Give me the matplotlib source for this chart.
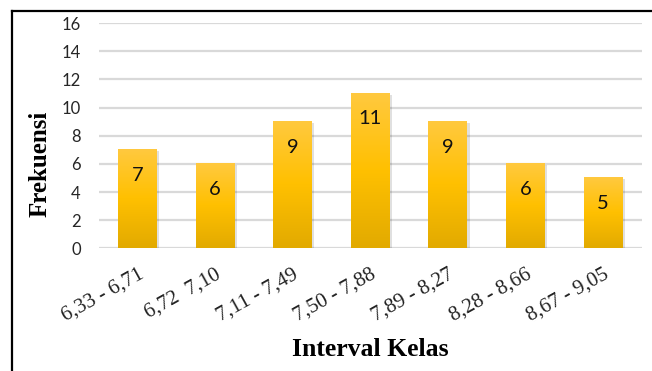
import matplotlib
matplotlib.use("Agg")
import matplotlib.pyplot as plt
import numpy as np
from matplotlib.colors import LinearSegmentedColormap
from matplotlib.lines import Line2D
from matplotlib.transforms import ScaledTranslation

categories = ["6,33 - 6,71", "6,72  7,10", "7,11 - 7,49", "7,50 - 7,88",
              "7,89 - 8,27", "8,28 - 8,66", "8,67 - 9,05"]
values = [7, 6, 9, 11, 9, 6, 5]
yticks = [0, 2, 4, 6, 8, 10, 12, 14, 16]

W, H = 652, 371
fig = plt.figure(figsize=(W / 100, H / 100), dpi=100)
fig.patch.set_facecolor("white")

left, right = 98.7 / W, 641.8 / W
bottom, top = 1 - 248.3 / H, 1 - 23.2 / H
ax = fig.add_axes([left, bottom, right - left, top - bottom])

x = np.arange(len(categories))
bw = 0.5
cmap = LinearSegmentedColormap.from_list(
    "g", [(0.0, "#E2AA00"), (0.5, "#FFC000"), (1.0, "#FFC93F")])
grad = np.linspace(0, 1, 256).reshape(-1, 1)

ax.set_xlim(-0.5, len(categories) - 0.5)
ax.set_ylim(0, 16)
ax.set_yticks(yticks)
ax.grid(axis="y", color="#d9d9d9", linewidth=1.6, zorder=0)
ax.set_axisbelow(True)

bars = ax.bar(x, values, width=bw, color="none", zorder=2)
for xi, v in zip(x, values):
    # soft shadow
    ax.bar(xi + 0.03, v, width=bw, bottom=-0.08, color="#000000", alpha=0.12,
           zorder=1.5, linewidth=0)
    ax.imshow(grad, extent=[xi - bw / 2, xi + bw / 2, 0, v], origin="lower",
              cmap=cmap, aspect="auto", zorder=2)
    ax.text(xi, v - 1.8, str(v), ha="center", va="center", fontsize=14.5,
            family="Lato", color="#111111", zorder=3)

ax.set_xticks(x)
ax.set_xticklabels(categories, rotation=29, ha="right", rotation_mode="anchor",
                   family="Liberation Serif", fontsize=15, color="#222222")
shift = ScaledTranslation(-4 / 100, 0, fig.dpi_scale_trans)
for lab in ax.get_xticklabels():
    lab.set_transform(lab.get_transform() + shift)
ax.tick_params(axis="x", length=0, pad=12)
ax.tick_params(axis="y", length=0, pad=13, labelsize=12, labelcolor="#262626")
for lab in ax.get_yticklabels():
    lab.set_family("Lato")
for s in ax.spines.values():
    s.set_visible(False)

fig.text(370 / W, 1 - 349 / H, "Interval Kelas", ha="center", va="center",
         family="Liberation Serif", fontweight="bold", fontsize=18.5)
fig.text(40 / W, 1 - 164 / H, "Frekuensi", ha="center", va="center",
         rotation=90, family="Liberation Serif", fontweight="bold", fontsize=18)

# outer frame (left and top)
fig.add_artist(Line2D([12.3 / W, 12.3 / W], [0, 1 - 11 / H], color="black",
                      linewidth=1.6, transform=fig.transFigure))
fig.add_artist(Line2D([12.3 / W, 1], [1 - 11 / H, 1 - 11 / H], color="black",
                      linewidth=1.6, transform=fig.transFigure))

fig.savefig("out.png", dpi=100)
